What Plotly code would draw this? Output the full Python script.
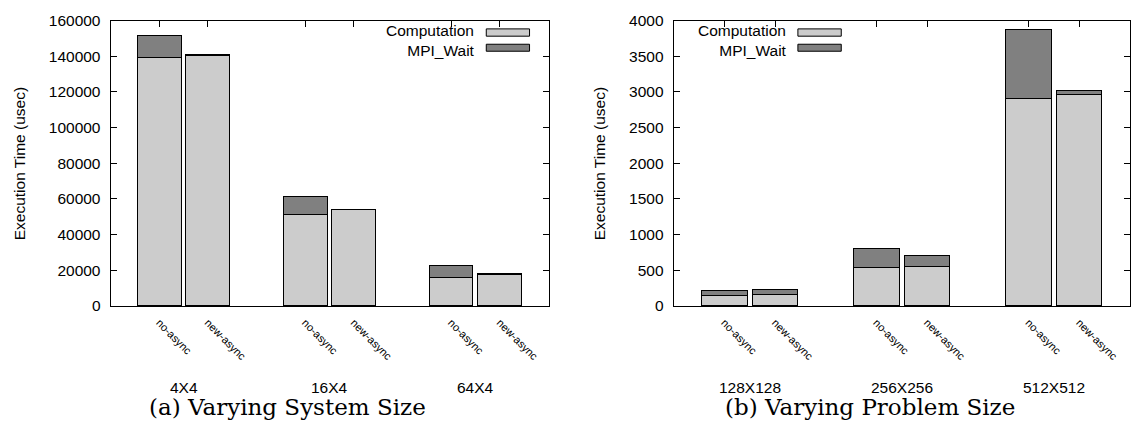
import plotly.graph_objects as go

# ---------------- data ----------------
variants = ["no-async", "new-async"]

sys_groups = ["4X4", "16X4", "64X4"]
sys_comp = [139500, 140300, 51500, 53900, 15800, 17500]
sys_wait = [12000, 500, 9600, 400, 6700, 700]

prob_groups = ["128X128", "256X256", "512X512"]
prob_comp = [142, 156, 546, 560, 2907, 2966]
prob_wait = [81, 80, 263, 142, 971, 54]

series_names = ["Computation", "MPI_Wait"]
series_colors = ["#cccccc", "#808080"]

captions = ["(a) Varying System Size", "(b) Varying Problem Size"]
ytitle = "Execution Time (usec)"

# ---------------- layout helpers ----------------
W, H = 1131, 427
def px(x):
    return x / W
def py(y):
    return 1 - y / H

SANS = "Liberation Sans, Arial, sans-serif"
SERIF = "DejaVu Serif, serif"
FS = 15.5

def positions(groups):
    # gnuplot-style clustered histogram: 2 bars + 1 gap per group
    return [g * 3 + v for g in range(len(groups)) for v in range(len(variants))]

fig = go.Figure()

panels = [
    dict(groups=sys_groups, comp=sys_comp, wait=sys_wait, xa="x", ya="y",
         yrange=[0, 160000], dtick=20000),
    dict(groups=prob_groups, comp=prob_comp, wait=prob_wait, xa="x2", ya="y2",
         yrange=[0, 4000], dtick=500),
]

for p in panels:
    xs = positions(p["groups"])
    for name, vals, col in zip(series_names, [p["comp"], p["wait"]], series_colors):
        fig.add_trace(go.Bar(
            x=xs, y=vals, name=name, width=0.9,
            marker=dict(color=col, line=dict(color="black", width=1)),
            xaxis=p["xa"], yaxis=p["ya"], showlegend=False,
        ))

ticktexts = variants * 3

common_x = dict(
    range=[-1, 8], showline=True, linecolor="black", linewidth=1, mirror="ticks",
    ticks="inside", ticklen=6, tickcolor="black", tickangle=45,
    tickfont=dict(family=SANS, size=11, color="black"),
    showgrid=False, zeroline=False, layer="below traces",
    ticklabelstandoff=5,
)
common_y = dict(
    showline=True, linecolor="black", linewidth=1, mirror="ticks",
    ticks="inside", ticklen=6, tickcolor="black", tickformat="d",
    tickfont=dict(family=SANS, size=FS, color="black"),
    showgrid=False, zeroline=False, ticklabelstandoff=6,
)

ydom = [py(309.3), py(12)]
fig.update_layout(
    width=W, height=H, margin=dict(l=0, r=0, t=0, b=0),
    paper_bgcolor="white", plot_bgcolor="white",
    barmode="stack", bargap=0,
    showlegend=False,
    xaxis=dict(domain=[px(110.7), px(549)], anchor="y",
               tickvals=positions(sys_groups), ticktext=ticktexts, **common_x),
    yaxis=dict(domain=ydom, anchor="x", range=panels[0]["yrange"],
               dtick=panels[0]["dtick"], **common_y),
    xaxis2=dict(domain=[px(674.3), 1.0], anchor="y2",
                tickvals=positions(prob_groups), ticktext=ticktexts, **common_x),
    yaxis2=dict(domain=ydom, anchor="x2", range=panels[1]["yrange"],
                dtick=panels[1]["dtick"], **common_y),
)

annotations = []
shapes = []

# group labels
for xa, groups in [("x", sys_groups), ("x2", prob_groups)]:
    for i, g in enumerate(groups):
        annotations.append(dict(
            x=i * 3 + 0.5, xref=xa, y=py(394), yref="paper", text=g,
            showarrow=False, xanchor="center", yanchor="middle",
            font=dict(family=SANS, size=FS, color="black")))

# captions
for cx, cap in zip([287.5, 870.5], captions):
    annotations.append(dict(
        x=px(cx), xref="paper", y=py(414), yref="paper", text=cap,
        showarrow=False, xanchor="center", yanchor="middle",
        font=dict(family=SERIF, size=23, color="black")))

# y titles
for cx in [19, 599.5]:
    annotations.append(dict(
        x=px(cx), xref="paper", y=py(160.7), yref="paper", text=ytitle,
        textangle=-90, showarrow=False, xanchor="center", yanchor="middle",
        font=dict(family=SANS, size=FS, color="black")))

# legends (text left, swatch right, gnuplot style)
swatch_rows = [(20.7, 28.3), (36.7, 44.0)]
for text_right, box_l, box_r in [(476, 486.7, 530), (788.6, 798.6, 842)]:
    annotations.append(dict(
        x=px(text_right), xref="paper", y=py(32.5), yref="paper",
        text="<br>".join(series_names), align="right",
        showarrow=False, xanchor="right", yanchor="middle", borderpad=0,
        font=dict(family=SANS, size=FS, color="black")))
    for col, (y0, y1) in zip(series_colors, swatch_rows):
        shapes.append(dict(
            type="rect", xref="paper", yref="paper",
            x0=px(box_l), x1=px(box_r), y0=py(y1), y1=py(y0),
            fillcolor=col, line=dict(color="black", width=1)))

fig.update_layout(annotations=annotations, shapes=shapes)

fig.write_html("out.html")
